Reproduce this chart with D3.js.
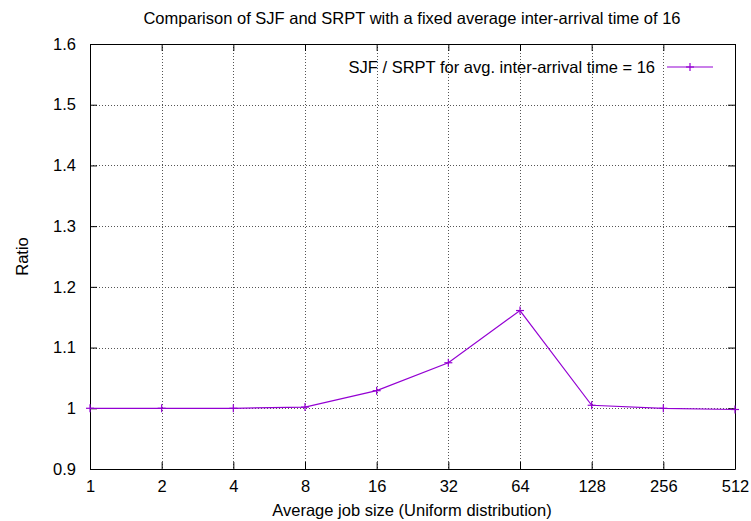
<!DOCTYPE html>
<html>
<head>
<meta charset="utf-8">
<script src="https://cdn.jsdelivr.net/npm/d3@7/dist/d3.min.js"></script>
<style>
  html, body { margin: 0; padding: 0; background: #fff; }
  text { font-family: "Liberation Sans", Arial, Helvetica, sans-serif; fill: #000; }
</style>
</head>
<body>
<svg id="chart" width="751" height="521"></svg>
<script>
// Average job size (uniform distribution) and SJF / SRPT ratio
const jobSizes = [1, 2, 4, 8, 16, 32, 64, 128, 256, 512];
const ratios = [1.0, 1.0, 1.0, 1.002, 1.029, 1.075, 1.161, 1.005, 1.0, 0.998];
const xTicks = [1, 2, 4, 8, 16, 32, 64, 128, 256, 512];
const yTicks = [0.9, 1.0, 1.1, 1.2, 1.3, 1.4, 1.5, 1.6];

const titleText = "Comparison of SJF and SRPT with a fixed average inter-arrival time of 16";
const xLabel = "Average job size (Uniform distribution)";
const yLabel = "Ratio";
const seriesName = "SJF / SRPT for avg. inter-arrival time = 16";
const lineColor = "#9400d3";
const fontSize = "16.5px";

const svg = d3.select("#chart");
const m = { left: 90, right: 735, top: 44, bottom: 469 };

const x = d3.scaleLog().base(2).domain([1, 512]).range([m.left, m.right]);
const y = d3.scaleLinear().domain([0.9, 1.6]).range([m.bottom, m.top]);

const fmtY = v => (Math.abs(v - 1) < 1e-9 ? "1" : d3.format(".1f")(v));

// grid
const grid = svg.append("g").attr("stroke", "#555").attr("stroke-width", 1)
  .attr("stroke-dasharray", "1,2").attr("shape-rendering", "crispEdges");
xTicks.slice(1, -1).forEach(t => {
  grid.append("line").attr("x1", Math.round(x(t)) + 0.5).attr("x2", Math.round(x(t)) + 0.5)
    .attr("y1", m.top).attr("y2", m.bottom);
});
yTicks.slice(1, -1).forEach(t => {
  grid.append("line").attr("y1", Math.round(y(t)) + 0.5).attr("y2", Math.round(y(t)) + 0.5)
    .attr("x1", m.left).attr("x2", m.right);
});

// axes with inward ticks, mirrored on top and right
const tickLen = 7;
const axB = d3.axisBottom(x).tickValues(xTicks).tickFormat(d3.format("d")).tickSizeInner(-tickLen).tickSizeOuter(0).tickPadding(11);
const axT = d3.axisTop(x).tickValues(xTicks).tickFormat("").tickSizeInner(-tickLen).tickSizeOuter(0);
const axL = d3.axisLeft(y).tickValues(yTicks).tickFormat(fmtY).tickSizeInner(-tickLen).tickSizeOuter(0).tickPadding(14);
const axR = d3.axisRight(y).tickValues(yTicks).tickFormat("").tickSizeInner(-tickLen).tickSizeOuter(0);

function styleAxis(g) {
  g.selectAll("path").attr("stroke", "#000").attr("stroke-width", 1);
  g.selectAll("line").attr("stroke", "#000").attr("stroke-width", 1);
  g.selectAll("text").style("font-size", fontSize).attr("font-family", "Liberation Sans, Arial, sans-serif");
}
svg.append("g").attr("transform", `translate(0,${m.bottom})`).call(axB).call(styleAxis);
svg.append("g").attr("transform", `translate(0,${m.top})`).call(axT).call(styleAxis);
svg.append("g").attr("transform", `translate(${m.left},0)`).call(axL).call(styleAxis);
svg.append("g").attr("transform", `translate(${m.right},0)`).call(axR).call(styleAxis);

// data line
const pts = jobSizes.map((d, i) => [d, ratios[i]]);
svg.append("path").datum(pts)
  .attr("fill", "none").attr("stroke", lineColor).attr("stroke-width", 1.2)
  .attr("d", d3.line().x(d => x(d[0])).y(d => y(d[1])));

// plus markers
const mk = 4;
const marks = svg.append("g").attr("stroke", lineColor).attr("stroke-width", 1.2);
pts.forEach(d => {
  const cx = x(d[0]), cy = y(d[1]);
  marks.append("line").attr("x1", cx - mk).attr("x2", cx + mk).attr("y1", cy).attr("y2", cy);
  marks.append("line").attr("x1", cx).attr("x2", cx).attr("y1", cy - mk).attr("y2", cy + mk);
});

// legend
const ly = 67;
svg.append("text").attr("x", 655).attr("y", ly).attr("dy", "0.35em").attr("text-anchor", "end")
  .style("font-size", fontSize).text(seriesName);
svg.append("line").attr("x1", 667).attr("x2", 713).attr("y1", ly).attr("y2", ly)
  .attr("stroke", lineColor).attr("stroke-width", 1.2);
svg.append("line").attr("x1", 690 - mk).attr("x2", 690 + mk).attr("y1", ly).attr("y2", ly)
  .attr("stroke", lineColor).attr("stroke-width", 1.2);
svg.append("line").attr("x1", 690).attr("x2", 690).attr("y1", ly - mk).attr("y2", ly + mk)
  .attr("stroke", lineColor).attr("stroke-width", 1.2);

// titles
svg.append("text").attr("x", 412).attr("y", 24).attr("text-anchor", "middle")
  .style("font-size", fontSize).text(titleText);
svg.append("text").attr("x", 412).attr("y", 516).attr("text-anchor", "middle")
  .style("font-size", fontSize).text(xLabel);
svg.append("text").attr("transform", `translate(28,${(m.top + m.bottom) / 2}) rotate(-90)`)
  .attr("text-anchor", "middle").style("font-size", fontSize).text(yLabel);
</script>
</body>
</html>
